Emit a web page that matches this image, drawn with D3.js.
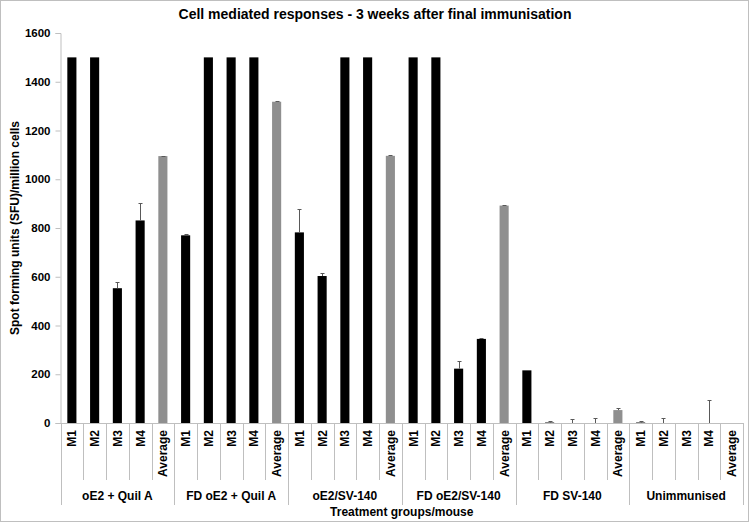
<!DOCTYPE html>
<html>
<head>
<meta charset="utf-8">
<script src="https://cdn.jsdelivr.net/npm/d3@7"></script>
<style>
  html, body { margin: 0; padding: 0; background: #fff; }
  svg { display: block; font-family: "Liberation Sans", Arial, sans-serif; }
</style>
</head>
<body>
<svg id="chart" width="750" height="525"></svg>
<script>
const title = "Cell mediated responses - 3 weeks after final immunisation";
const yAxisTitle = "Spot forming units (SFU)/million cells";
const xAxisTitle = "Treatment groups/mouse";
const groups = ["oE2 + Quil A", "FD oE2 + Quil A", "oE2/SV-140", "FD oE2/SV-140", "FD SV-140", "Unimmunised"];
const members = ["M1", "M2", "M3", "M4", "Average"];
const values = [
  1500, 1500, 553, 831, 1095,
  770, 1500, 1500, 1500, 1318,
  782, 603, 1500, 1500, 1096,
  1500, 1500, 223, 345, 892,
  216, 2, 0, 0, 53,
  2, 0, 0, 0, 0
];
const errors = [
  0, 0, 24, 72, 2,
  5, 0, 0, 0, 2,
  95, 12, 0, 0, 2,
  0, 0, 31, 5, 2,
  0, 5, 16, 20, 7,
  6, 19, 0, 94, 0
];
const yTicks = [0, 200, 400, 600, 800, 1000, 1200, 1400, 1600];

(function () {
const svg = d3.select("#chart");
const W = 750, H = 525;
const pLeft = 60.5, pRight = 743, pTop = 33, pBottom = 423;

// chart border
svg.append("rect").attr("x", 0.5).attr("y", 0.5).attr("width", W - 2).attr("height", H - 4)
  .attr("fill", "#fff").attr("stroke", "#bfbfbf").attr("stroke-width", 1);

const cats = [];
groups.forEach((g, gi) => members.forEach((m, mi) => cats.push({ g, gi, m, mi, idx: gi * 5 + mi })));

const x = d3.scaleBand().domain(cats.map(d => d.idx)).range([pLeft, pRight]).paddingInner(0.6).paddingOuter(0.3);
const y = d3.scaleLinear().domain([0, 1600]).range([pBottom, pTop]);
const step = x.step();

// title
svg.append("text").attr("x", 375).attr("y", 19).attr("text-anchor", "middle")
  .attr("font-size", 14).attr("font-weight", "bold").attr("fill", "#000").text(title);

// y axis
const yAxis = d3.axisLeft(y).tickValues(yTicks).tickSize(5).tickPadding(5).tickFormat(d3.format("d"));
const yg = svg.append("g").attr("transform", `translate(${pLeft},0)`).call(yAxis);
yg.select(".domain").attr("stroke", "#bfbfbf");
yg.selectAll(".tick line").attr("stroke", "#bfbfbf");
yg.selectAll(".tick text").attr("font-size", 11.5).attr("font-weight", "bold").attr("fill", "#000")
  .attr("font-family", "Liberation Sans, Arial, sans-serif");

svg.append("text").attr("transform", `translate(19,${(pTop + pBottom) / 2}) rotate(-90)`)
  .attr("text-anchor", "middle").attr("font-size", 12).attr("font-weight", "bold").text(yAxisTitle);

// bars
svg.append("g").selectAll("rect").data(cats).join("rect")
  .attr("x", d => x(d.idx))
  .attr("width", x.bandwidth())
  .attr("y", d => y(values[d.idx]))
  .attr("height", d => pBottom - y(values[d.idx]))
  .attr("fill", d => d.m === "Average" ? "#8f8f8f" : "#000");

// error bars
const eg = svg.append("g").attr("stroke", "#595959").attr("stroke-width", 1);
cats.forEach(d => {
  const e = errors[d.idx];
  if (e <= 0) return;
  const cx = Math.round(x(d.idx) + x.bandwidth() / 2) + 0.5;
  const y0 = y(values[d.idx]);
  const y1 = Math.round(y(values[d.idx] + e)) + 0.5;
  eg.append("line").attr("x1", cx).attr("x2", cx).attr("y1", y0).attr("y2", y1);
  eg.append("line").attr("x1", cx - 2).attr("x2", cx + 2).attr("y1", y1).attr("y2", y1);
});

// category axis
const ag = svg.append("g").attr("stroke", "#bfbfbf").attr("stroke-width", 1);
ag.append("line").attr("x1", pLeft).attr("x2", pRight).attr("y1", pBottom + 0.5).attr("y2", pBottom + 0.5);
for (let k = 0; k <= cats.length; k++) {
  const xx = Math.round(pLeft + k * step) + 0.5;
  const isGroup = k % 5 === 0;
  ag.append("line").attr("x1", xx).attr("x2", xx).attr("y1", pBottom).attr("y2", isGroup ? 505 : 480);
}

// member labels
svg.append("g").selectAll("text").data(cats).join("text")
  .attr("transform", d => `translate(${x(d.idx) + x.bandwidth() / 2 + 4.5},430) rotate(-90)`)
  .attr("text-anchor", "end").attr("font-size", 12).attr("font-weight", "bold").attr("fill", "#000")
  .text(d => d.m);

// group labels
svg.append("g").selectAll("text").data(groups).join("text")
  .attr("x", (g, i) => pLeft + (i * 5 + 2.5) * step)
  .attr("y", 500).attr("text-anchor", "middle").attr("font-size", 12).attr("font-weight", "bold")
  .attr("fill", "#000").text(g => g);

svg.append("text").attr("x", (pLeft + pRight) / 2).attr("y", 516).attr("text-anchor", "middle")
  .attr("font-size", 12).attr("font-weight", "bold").attr("fill", "#000").text(xAxisTitle);
})();
</script>
</body>
</html>
